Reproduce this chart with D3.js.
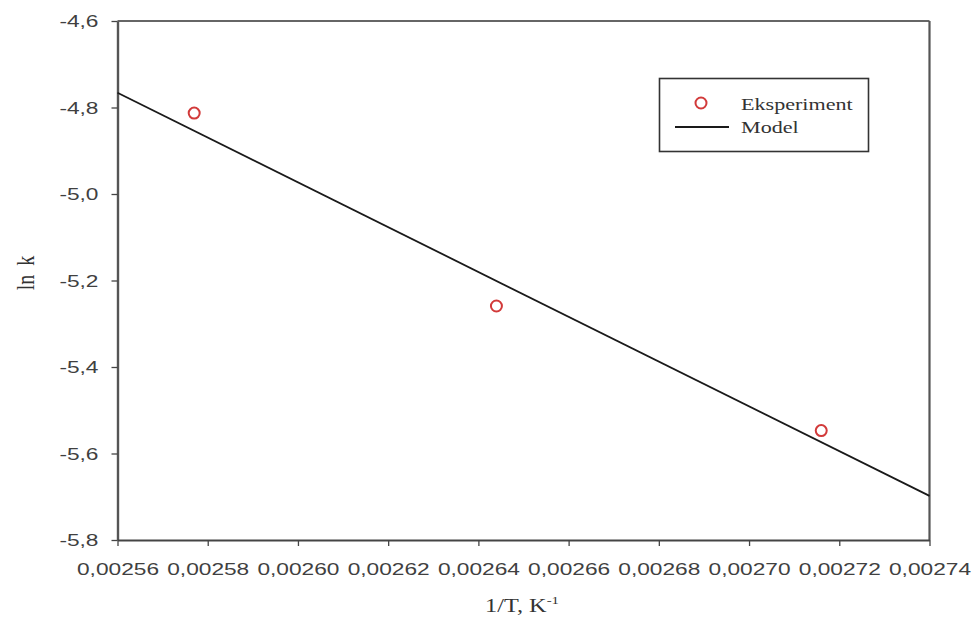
<!DOCTYPE html>
<html>
<head>
<meta charset="utf-8">
<script src="https://cdn.jsdelivr.net/npm/d3@7"></script>
<style>
  html, body { margin: 0; padding: 0; background: #fff; }
  svg { display: block; }
</style>
</head>
<body>
<div id="chart"></div>
<script>
// ---- data ----
const xTicks = [0.00256, 0.00258, 0.00260, 0.00262, 0.00264, 0.00266, 0.00268, 0.00270, 0.00272, 0.00274];
const yTicks = [-5.8, -5.6, -5.4, -5.2, -5.0, -4.8, -4.6];
const expX = [0.002577, 0.002644, 0.002716];
const expY = [-4.813, -5.259, -5.547];
const modelX = [0.00256, 0.00274];
const modelY = [-4.766, -5.698];
const legendLabels = ["Eksperiment", "Model"];
const xTitle = "1/T, K";
const xTitleSup = "-1";
const yTitle = "ln k";

// ---- layout ----
const W = 974, H = 631;
const mLeft = 117.5, mRight = 929.5, mTop = 21, mBottom = 540;
const SX = 1.42; // horizontal stretch of glyphs

const svg = d3.select("#chart").append("svg").attr("width", W).attr("height", H);

const x = d3.scaleLinear().domain([xTicks[0], xTicks[xTicks.length - 1]]).range([mLeft, mRight]);
const y = d3.scaleLinear().domain([yTicks[0], yTicks[yTicks.length - 1]]).range([mBottom, mTop]);

const fmtX = d => d.toFixed(5).replace(".", ",");
const fmtY = d => d.toFixed(1).replace(".", ",");

// frame (top & right)
svg.append("line").attr("x1", mLeft).attr("x2", mRight).attr("y1", mTop).attr("y2", mTop)
  .attr("stroke", "#333").attr("stroke-width", 1.6);
svg.append("line").attr("x1", mRight).attr("x2", mRight).attr("y1", mTop).attr("y2", mBottom)
  .attr("stroke", "#555").attr("stroke-width", 2.2);

// y axis
const gy = svg.append("g").attr("transform", `translate(${mLeft},0)`)
  .call(d3.axisLeft(y).tickValues(yTicks).tickSize(6).tickSizeOuter(0).tickFormat(fmtY));
gy.select(".domain").attr("stroke", "#555").attr("stroke-width", 2.4);
gy.selectAll(".tick line").attr("stroke", "#444").attr("stroke-width", 1.3);
gy.selectAll(".tick text")
  .attr("x", null).attr("dy", null)
  .attr("transform", `translate(-19,5.5) scale(${SX},1)`)
  .attr("text-anchor", "end")
  .attr("fill", "#404040")
  .style("font-family", "'Liberation Sans', Arial, sans-serif")
  .style("font-size", "16px");

// x axis
const gx = svg.append("g").attr("transform", `translate(0,${mBottom})`)
  .call(d3.axisBottom(x).tickValues(xTicks).tickSize(6).tickSizeOuter(0).tickFormat(fmtX));
gx.select(".domain").attr("stroke", "#444").attr("stroke-width", 2);
gx.selectAll(".tick line").attr("stroke", "#444").attr("stroke-width", 1.3);
gx.selectAll(".tick text")
  .attr("y", null).attr("dy", null)
  .attr("transform", `translate(0,35) scale(${SX},1)`)
  .attr("text-anchor", "middle")
  .attr("fill", "#404040")
  .style("font-family", "'Liberation Sans', Arial, sans-serif")
  .style("font-size", "16px");

// model line
const line = d3.line().x(d => x(d[0])).y(d => y(d[1]));
svg.append("path").datum(modelX.map((v, i) => [v, modelY[i]]))
  .attr("d", line).attr("fill", "none").attr("stroke", "#1a1a1a").attr("stroke-width", 1.8);

// experimental points
svg.append("g").selectAll("circle").data(expX.map((v, i) => [v, expY[i]])).join("circle")
  .attr("cx", d => x(d[0])).attr("cy", d => y(d[1])).attr("r", 5.5)
  .attr("fill", "#fff").attr("stroke", "#d23a3a").attr("stroke-width", 2);

// legend
const lg = svg.append("g");
lg.append("rect").attr("x", 659.5).attr("y", 78.5).attr("width", 209).attr("height", 73)
  .attr("fill", "#fff").attr("stroke", "#333").attr("stroke-width", 1.6);
lg.append("circle").attr("cx", 701).attr("cy", 103).attr("r", 5.5)
  .attr("fill", "#fff").attr("stroke", "#d23a3a").attr("stroke-width", 2);
lg.append("line").attr("x1", 675).attr("x2", 729).attr("y1", 127).attr("y2", 127)
  .attr("stroke", "#1a1a1a").attr("stroke-width", 1.8);
const serif = "'Liberation Serif', 'Times New Roman', serif";
legendLabels.forEach((t, i) => {
  lg.append("text").text(t)
    .attr("transform", `translate(741,${110 + i * 23}) scale(1.3,1)`)
    .attr("fill", "#333")
    .style("font-family", serif).style("font-size", "17px");
});

// x title
const xt = svg.append("text")
  .attr("transform", `translate(522,612) scale(1.35,1)`)
  .attr("text-anchor", "middle")
  .attr("fill", "#333")
  .style("font-family", serif).style("font-size", "18px");
xt.append("tspan").text(xTitle);
xt.append("tspan").text(xTitleSup).attr("dy", -8).style("font-size", "11px");

// y title
svg.append("text").text(yTitle)
  .attr("transform", `translate(34,273) scale(1.3,1) rotate(-90)`)
  .attr("text-anchor", "middle")
  .attr("fill", "#333")
  .style("font-family", serif).style("font-size", "20px")
  .style("word-spacing", "4px");
</script>
</body>
</html>
